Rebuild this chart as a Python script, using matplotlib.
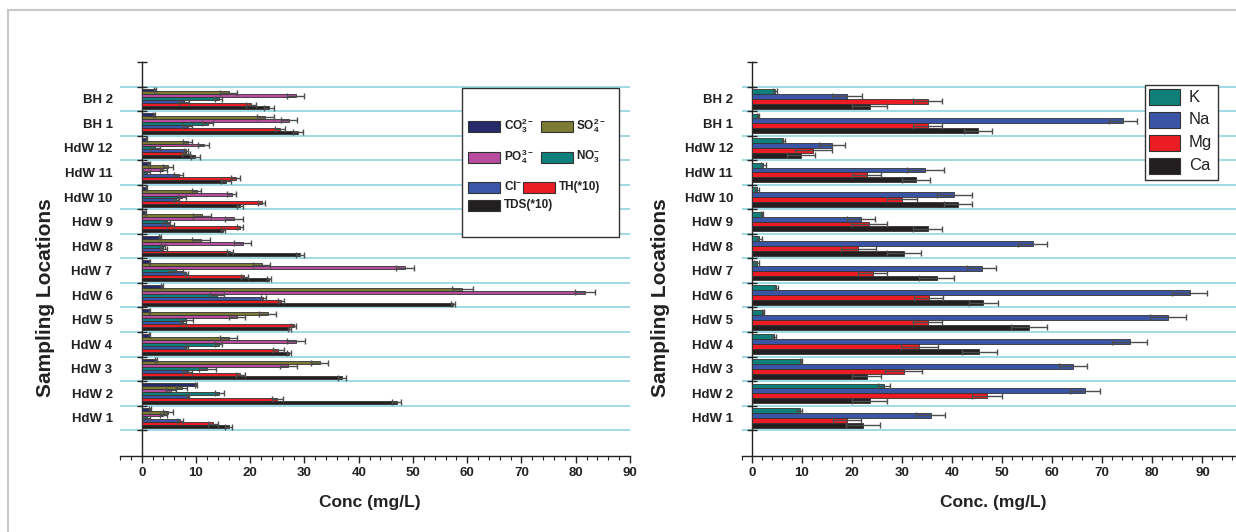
import matplotlib
matplotlib.use('Agg')
import matplotlib.pyplot as plt
from matplotlib.patches import Rectangle
from matplotlib.lines import Line2D
import numpy as np

plt.rcParams['font.family'] = ['Liberation Sans', 'DejaVu Sans']
plt.rcParams['mathtext.fontset'] = 'custom'
plt.rcParams['mathtext.rm'] = 'Liberation Sans'
plt.rcParams['mathtext.bf'] = 'Liberation Sans:bold'
plt.rcParams['mathtext.it'] = 'Liberation Sans:italic'

# ---------------- data ----------------
locations = ['HdW 1', 'HdW 2', 'HdW 3', 'HdW 4', 'HdW 5', 'HdW 6', 'HdW 7',
             'HdW 8', 'HdW 9', 'HdW 10', 'HdW 11', 'HdW 12', 'BH 1', 'BH 2']

anion_labels = [r'$\mathbf{CO_3^{2-}}$', r'$\mathbf{SO_4^{2-}}$', r'$\mathbf{PO_4^{3-}}$',
                r'$\mathbf{NO_3^{-}}$', r'$\mathbf{Cl^{-}}$', 'TH(*10)', 'TDS(*10)']
anion_colors = ['#262a6b', '#7b7b34', '#b84d9f', '#0e7f7a', '#3a57a7', '#ec1c24', '#231f20']

co3 = [1.5, 10.0, 2.6, 1.4, 1.4, 3.8, 1.4, 3.4, 0.7, 0.9, 1.4, 0.9, 2.2, 2.5]
co3_err = [0.2, 0.2, 0.2, 0.1, 0.1, 0.2, 0.1, 0.2, 0.1, 0.1, 0.2, 0.1, 0.2, 0.2]
so4 = [4.9, 7.4, 32.8, 16.0, 23.2, 59.1, 22.1, 10.9, 11.1, 10.1, 4.9, 8.5, 22.8, 16.0]
so4_err = [0.9, 1.0, 1.6, 1.6, 1.6, 2.0, 1.6, 1.6, 1.6, 0.9, 0.9, 0.8, 1.5, 1.6]
po4 = [4.0, 5.4, 27.0, 28.4, 17.5, 81.7, 48.5, 18.6, 17.0, 16.6, 4.0, 11.4, 27.1, 28.4]
po4_err = [0.6, 0.9, 1.6, 1.7, 1.5, 1.8, 1.6, 1.5, 1.7, 0.8, 0.6, 1.0, 1.5, 1.6]
no3 = [0.9, 14.3, 12.1, 14.2, 8.2, 13.9, 6.4, 3.9, 4.6, 7.4, 0.9, 2.5, 12.2, 14.2]
no3_err = [0.6, 0.8, 1.6, 0.6, 1.2, 1.3, 1.3, 0.4, 0.6, 0.8, 0.6, 0.8, 1.0, 0.6]
cl = [7.1, 8.5, 8.5, 8.2, 7.6, 22.4, 8.2, 4.0, 5.3, 6.4, 6.8, 8.2, 8.5, 7.8]
cl_err = [0.6, 0.3, 0.8, 0.3, 0.5, 0.5, 0.3, 0.6, 0.6, 0.4, 0.9, 0.4, 0.8, 0.9]
th = [13.2, 25.0, 18.2, 25.2, 28.0, 25.7, 18.9, 16.3, 18.1, 22.1, 17.3, 8.2, 25.5, 20.1]
th_err = [0.9, 1.0, 0.8, 1.0, 0.4, 0.5, 0.6, 0.6, 0.6, 0.6, 0.9, 0.7, 0.9, 0.9]
tds = [16.0, 47.0, 36.9, 27.2, 27.2, 57.4, 23.5, 29.2, 15.0, 18.1, 15.5, 9.9, 28.8, 23.5]
tds_err = [0.7, 0.8, 0.8, 0.4, 0.3, 0.4, 0.4, 0.8, 0.4, 0.6, 0.9, 0.8, 0.9, 0.9]

cation_labels = ['K', 'Na', 'Mg', 'Ca']
cation_colors = ['#0f8078', '#3a55a5', '#ec1c24', '#231f20']
k = [9.6, 26.4, 9.8, 4.5, 2.3, 4.9, 1.0, 1.5, 2.0, 1.1, 2.3, 6.3, 1.3, 4.7]
k_err = [0.5, 1.2, 0.2, 0.4, 0.2, 0.3, 0.5, 0.5, 0.2, 0.4, 0.5, 0.3, 0.2, 0.4]
na = [35.7, 66.5, 64.1, 75.5, 83.1, 87.5, 45.9, 56.1, 21.8, 40.4, 34.7, 16.0, 74.2, 19.0]
na_err = [2.9, 3.0, 2.8, 3.5, 3.6, 3.5, 2.9, 2.9, 2.8, 3.5, 3.6, 2.6, 2.8, 3.0]
mg = [19.0, 47.0, 30.4, 33.5, 35.1, 35.3, 24.2, 21.3, 23.5, 30.1, 23.0, 12.3, 35.1, 35.1]
mg_err = [2.8, 3.0, 3.7, 3.6, 2.8, 2.8, 2.9, 3.5, 3.6, 3.0, 2.9, 3.7, 2.8, 2.8]
ca = [22.2, 23.6, 23.0, 45.4, 55.4, 46.2, 36.9, 30.5, 35.1, 41.1, 32.8, 9.8, 45.2, 23.6]
ca_err = [3.4, 3.5, 2.9, 3.5, 3.6, 2.9, 3.5, 3.4, 2.8, 2.8, 2.8, 2.8, 2.8, 3.5]

anions = [co3, so4, po4, no3, cl, th, tds]
anions_err = [co3_err, so4_err, po4_err, no3_err, cl_err, th_err, tds_err]
cations = [k, na, mg, ca]
cations_err = [k_err, na_err, mg_err, ca_err]

# ---------------- figure ----------------
W, H = 1236, 532
fig = plt.figure(figsize=(W / 100, H / 100), dpi=100)
fig.patch.set_facecolor('white')


def fx(px):
    return px / W


def fy(py):
    return 1 - py / H


# light frame (top & left visible)
fig.add_artist(Line2D([fx(8), fx(8)], [fy(10), fy(540)], transform=fig.transFigure,
                      color='#c8c8c8', lw=1.5))
fig.add_artist(Line2D([fx(8), fx(1240)], [fy(10), fy(10)], transform=fig.transFigure,
                      color='#c8c8c8', lw=1.5))

pos = np.arange(1, len(locations) + 1)
EDGE = '#333333'
ECOL = '#4d4d4d'


def style(ax, xlim, xmaj_max, lbl_pad):
    ax.set_xlim(*xlim)
    ax.set_ylim(-0.55, 15.5)
    ax.set_facecolor('none')
    for s in ['top', 'right']:
        ax.spines[s].set_visible(False)
    ax.spines['left'].set_position(('data', 0))
    ax.spines['left'].set_color('#222222')
    ax.spines['bottom'].set_color('#222222')
    ax.spines['left'].set_linewidth(1.0)
    ax.spines['bottom'].set_linewidth(1.0)
    ax.set_xticks(np.arange(0, xmaj_max + 1, 10))
    ax.set_xticks(np.arange(xlim[0] if xlim[0] % 2 == 0 else xlim[0] + 1, xlim[1] + 0.01, 2), minor=True)
    ax.tick_params(axis='x', which='major', direction='out', length=5, width=1,
                   labelsize=9.5, pad=3, colors='#222222')
    ax.tick_params(axis='x', which='minor', direction='out', length=3, width=0.8,
                   colors='#222222')
    ax.set_yticks(np.arange(0.5, 15.6, 1))
    ax.set_yticklabels([])
    ax.set_yticks(pos, minor=True)
    ax.set_yticklabels(locations, minor=True)
    ax.tick_params(axis='y', which='major', direction='inout', length=7, width=1,
                   colors='#222222')
    ax.tick_params(axis='y', which='minor', length=0, pad=lbl_pad, labelsize=9.5,
                   labelcolor='#222222')
    for t in ax.get_xticklabels() + ax.get_yticklabels(minor=True):
        t.set_fontweight('bold')
    for b in np.arange(0.5, 15, 1):
        ax.axhline(b, color='#8fd4e2', lw=1.2, zorder=1)


# ---------------- left chart ----------------
axL = fig.add_axes([fx(120), fy(456), fx(630) - fx(120), fy(62) - fy(456)])
hL = 0.12
for i, (vals, errs, col) in enumerate(zip(anions, anions_err, anion_colors)):
    yy = pos + (3 - i) * hL
    axL.barh(yy, vals, height=hL, color=col, edgecolor=EDGE, linewidth=0.6, zorder=3)
    axL.errorbar(vals, yy, xerr=errs, fmt='none', ecolor=ECOL, elinewidth=1,
                 capsize=2.3, capthick=1, zorder=4)
style(axL, (-4, 90), 90, 21)

# ---------------- right chart ----------------
axR = fig.add_axes([fx(741.7), fy(456), 1 - fx(741.7), fy(62) - fy(456)])
hR = 0.2
for i, (vals, errs, col) in enumerate(zip(cations, cations_err, cation_colors)):
    yy = pos + (1.5 - i) * hR
    axR.barh(yy, vals, height=hR, color=col, edgecolor=EDGE, linewidth=0.6, zorder=3)
    axR.errorbar(vals, yy, xerr=errs, fmt='none', ecolor=ECOL, elinewidth=1,
                 capsize=2.5, capthick=1, zorder=4)
style(axR, (-2, 96.7), 90, 13.5)

# axis titles
fig.text(fx(46), fy(298), 'Sampling Locations', rotation=90, ha='center', va='center',
         fontsize=15, fontweight='bold', color='#222222')
fig.text(fx(660), fy(298), 'Sampling Locations', rotation=90, ha='center', va='center',
         fontsize=15, fontweight='bold', color='#222222')
fig.text(fx(370), fy(502), 'Conc (mg/L)', ha='center', va='center',
         fontsize=12.5, fontweight='bold', color='#222222')
fig.text(fx(993), fy(502), 'Conc. (mg/L)', ha='center', va='center',
         fontsize=12.5, fontweight='bold', color='#222222')

# ---------------- left legend ----------------
fig.add_artist(Rectangle((fx(462), fy(237)), fx(619) - fx(462), fy(88) - fy(237),
                         transform=fig.transFigure, facecolor='white', edgecolor='#333333',
                         lw=1.0, zorder=5))
leg_slots = [(468, 126, 504), (541, 126, 576), (468, 157, 504), (541, 157, 576),
             (468, 187, 504), (523, 187, 559), (468, 205, 504)]
for (px, py, tx), lab, col in zip(leg_slots, anion_labels, anion_colors):
    fig.add_artist(Rectangle((fx(px), fy(py + 5.5)), fx(32), 11 / H,
                             transform=fig.transFigure, facecolor=col, edgecolor=EDGE,
                             lw=0.8, zorder=6))
    fig.text(fx(tx), fy(py), lab, ha='left', va='center', fontsize=8.5,
             fontweight='bold', color='#222222', zorder=6)

# ---------------- right legend ----------------
fig.add_artist(Rectangle((fx(1145), fy(180)), fx(1218) - fx(1145), fy(85) - fy(180),
                         transform=fig.transFigure, facecolor='white', edgecolor='#333333',
                         lw=1.0, zorder=5))
for j, (lab, col) in enumerate(zip(cation_labels, cation_colors)):
    py = 97 + 23 * j
    fig.add_artist(Rectangle((fx(1149), fy(py + 8)), fx(31), 16 / H,
                             transform=fig.transFigure, facecolor=col, edgecolor=EDGE,
                             lw=0.8, zorder=6))
    fig.text(fx(1189), fy(py), lab, ha='left', va='center', fontsize=12,
             color='#222222', zorder=6)

fig.savefig('out.png', dpi=100)
